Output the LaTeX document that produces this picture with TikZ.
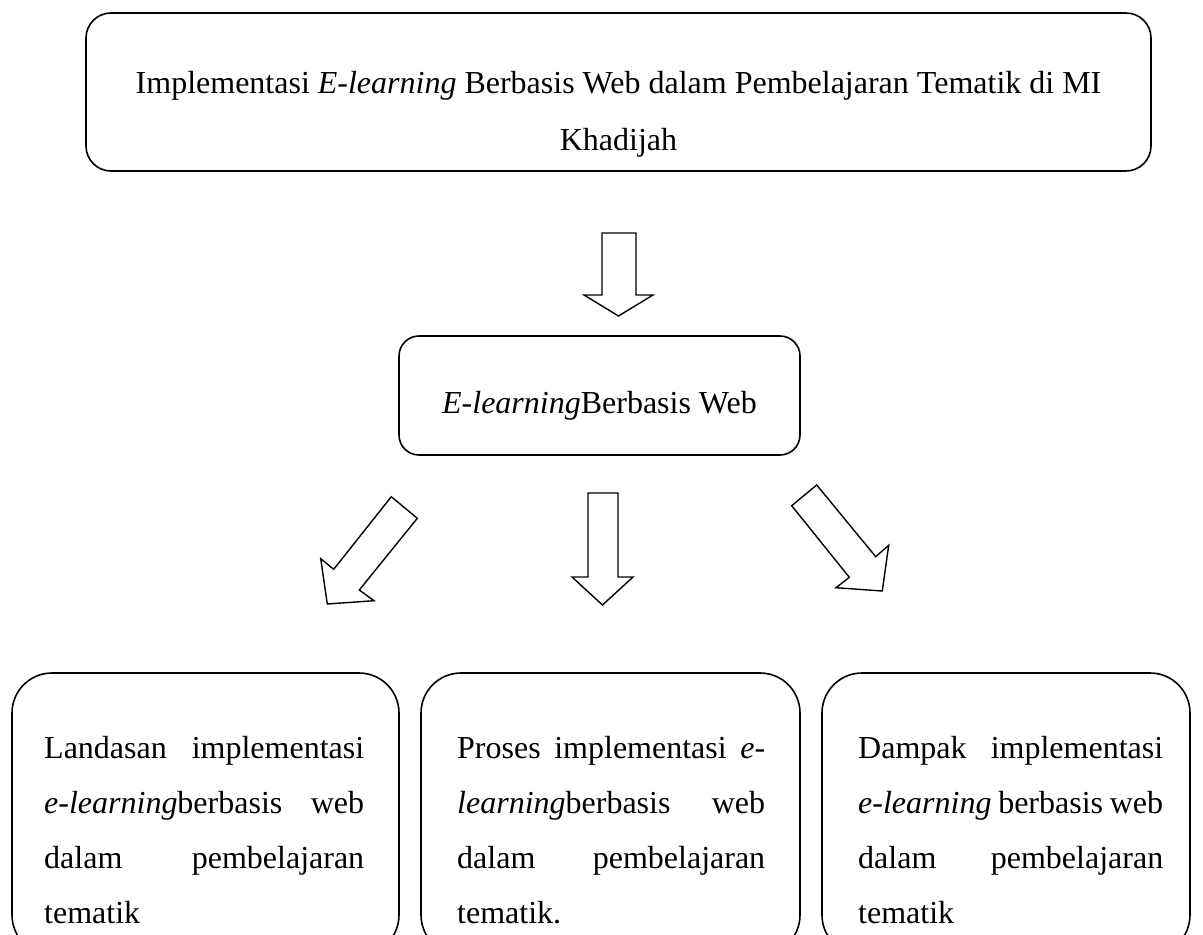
\documentclass[tikz,border=0pt]{standalone}
\usepackage{fontspec}
\setmainfont{Liberation Serif}
\newcommand{\jl}[2]{\makebox[#1][s]{#2}}
\begin{document}
\begin{tikzpicture}[x=1pt,y=-1pt,
  box/.style={draw=black,line width=1.6pt,rounded corners=#1},
  blockarrow/.style={draw=black,line width=1.4pt,fill=white,line join=miter},
  txt/.style={inner sep=0pt,anchor=base west}]
\useasboundingbox (0,0) rectangle (1203,935);
\clip (0,0) rectangle (1203,935);
% top box
\draw[box=25pt] (86,13) rectangle (1151,171);
\node[inner sep=0pt,anchor=base] (title) at (618.5,93)
  {\parbox[t]{1100pt}{\centering\fontsize{32}{57}\selectfont Implementasi \textit{E-learning} Berbasis Web dalam Pembelajaran Tematik di MI\\ Khadijah}};
% top arrow
\draw[blockarrow] (602,233) -- (636,233) -- (636,295) -- (653,295) -- (618.5,316) -- (584,295) -- (602,295) -- cycle;
% middle box
\draw[box=20pt] (399,336) rectangle (800,455);
\node[inner sep=0pt,anchor=base,font=\fontsize{32}{38}\selectfont] (mid) at (599.5,413) {\textit{E-learning}Berbasis Web};
% three arrows
\draw[blockarrow] (391.3,496.7) -- (417.3,518.3) -- (359.3,590) -- (374,600.7) -- (327.3,604) -- (320.7,558.7) -- (333.7,569.3) -- cycle;
\draw[blockarrow] (588,493) -- (618,493) -- (618,577) -- (633,577) -- (602.5,605) -- (572,577) -- (588,577) -- cycle;
\draw[blockarrow] (816.7,485) -- (791.7,505.7) -- (849.3,577.3) -- (836,587.7) -- (882.3,591) -- (888.7,545.3) -- (875.7,556.7) -- cycle;
% bottom boxes
\draw[box=40pt] (12,673) rectangle (399,955);
\draw[box=40pt] (421,673) rectangle (800,955);
\draw[box=40pt] (822,673) rectangle (1190,955);
\node[txt] (left) at (44,758)
  {\parbox[t]{320pt}{\fontsize{32}{55}\selectfont
   \jl{320pt}{Landasan implementasi}\\
   \jl{320pt}{\textit{e-learning}berbasis web}\\
   \jl{320pt}{dalam pembelajaran}\\
   tematik}};
\node[txt] (centre) at (457,758)
  {\parbox[t]{308pt}{\fontsize{32}{55}\selectfont
   \jl{308pt}{Proses implementasi \textit{e-}}\\
   \jl{308pt}{\textit{learning}berbasis web}\\
   \jl{308pt}{dalam pembelajaran}\\
   tematik.}};
\node[txt] (right) at (858,758)
  {\parbox[t]{305pt}{\fontsize{32}{55}\selectfont
   \jl{305pt}{Dampak implementasi}\\
   \jl{305pt}{\textit{e-learning} berbasis web}\\
   \jl{305pt}{dalam pembelajaran}\\
   tematik}};
\end{tikzpicture}
\end{document}
